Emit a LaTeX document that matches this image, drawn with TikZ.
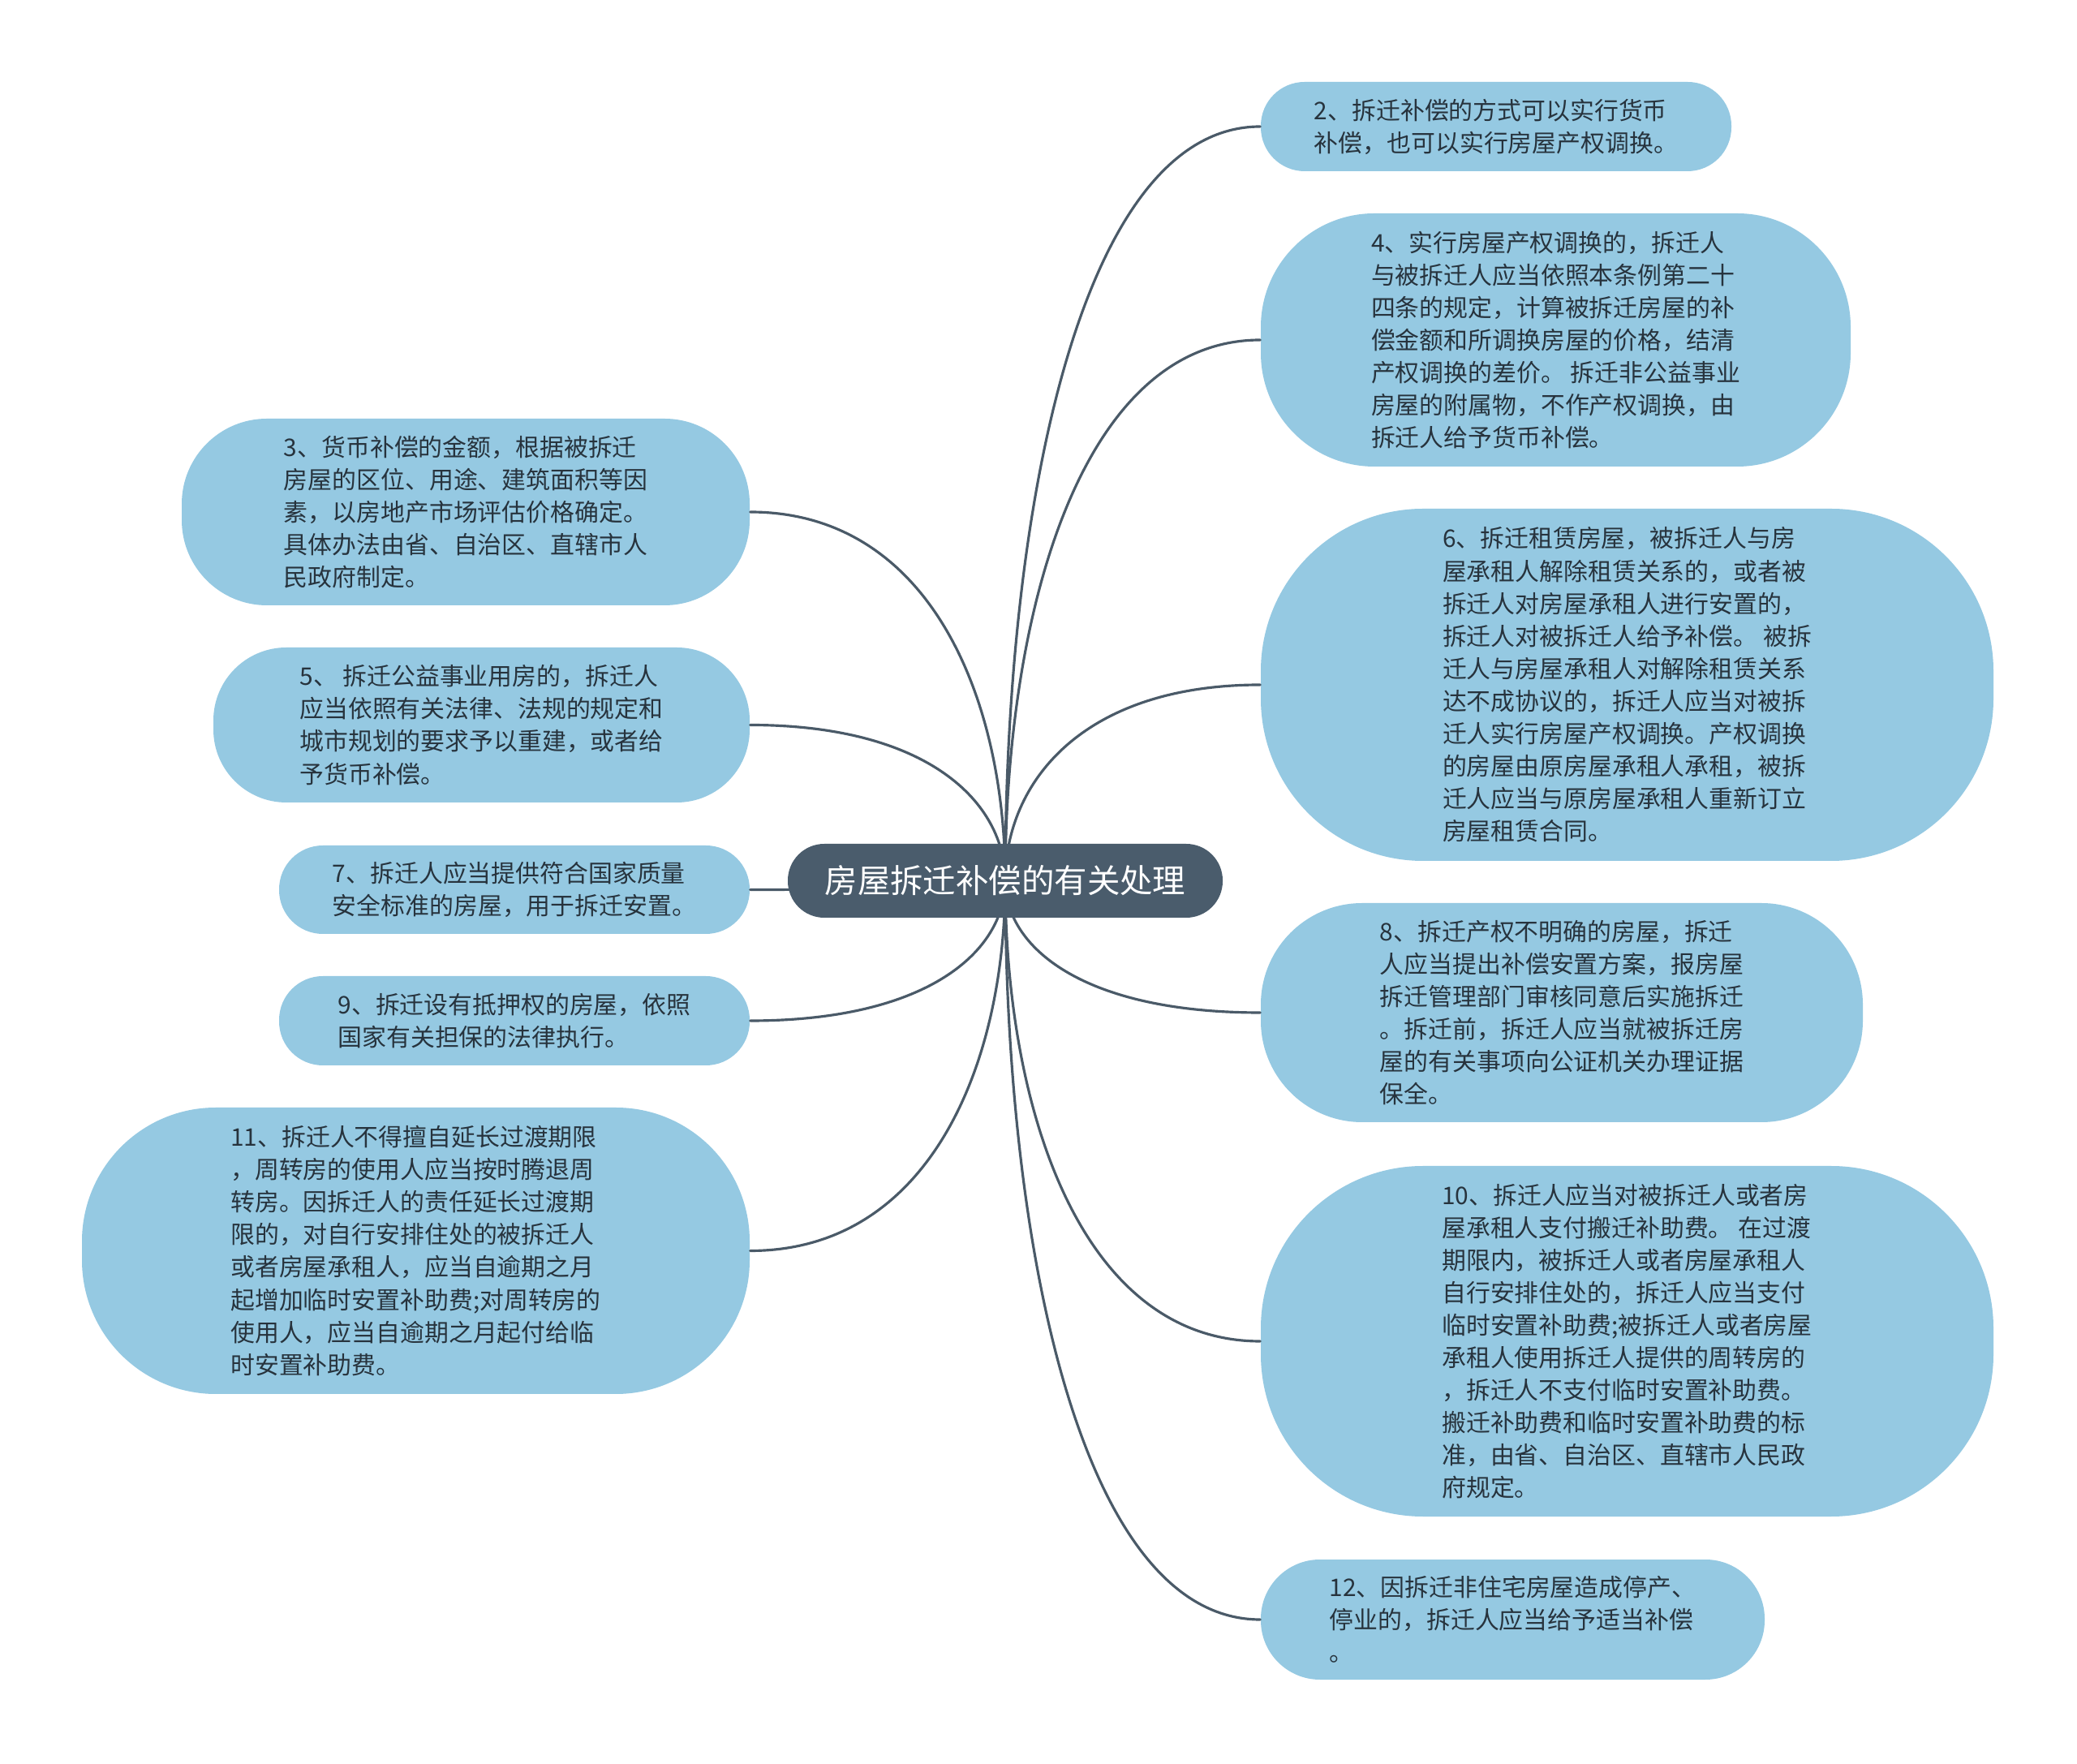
\documentclass[tikz,border=0pt]{standalone}
\usepackage{fontspec}
\setmainfont{Noto Sans CJK SC}
\usetikzlibrary{calc}
\definecolor{leafblue}{HTML}{95C9E2}
\definecolor{hubslate}{HTML}{4A5C6C}
\definecolor{linkslate}{HTML}{4A5A68}
\definecolor{inktext}{HTML}{27333D}

\begin{document}
\begin{tikzpicture}[x=1cm,y=1cm,line cap=round,line join=round,
  leaf/.style n args={3}{fill=leafblue,text=inktext,align=left,inner sep=0pt,
    minimum width=#1,minimum height=#2,rounded corners=#3,
    font=\fontsize{8.5}{11.4}\selectfont},
  spoke/.style={draw=linkslate,line width=0.9pt,
    to path={.. controls ($(\tikztostart)!0.5!(\tikztostart|-\tikztotarget)$)
      and ($(\tikztostart|-\tikztotarget)!0.3!(\tikztotarget)$) .. (\tikztotarget)}}]
\useasboundingbox (0,0) rectangle (25.6,21.73);
\fill[white] (0,0) rectangle (25.6,21.73);
\coordinate (hub) at (12.39,10.875);
% right side
\node[leaf={5.80cm}{1.10cm}{0.54cm}] (n2) at (18.44,20.17) {2、拆迁补偿的方式可以实行货币\\补偿，也可以实行房屋产权调换。};
\node[leaf={7.27cm}{3.12cm}{1.40cm}] (n4) at (19.175,17.54) {4、实行房屋产权调换的，拆迁人\\与被拆迁人应当依照本条例第二十\\四条的规定，计算被拆迁房屋的补\\偿金额和所调换房屋的价格，结清\\产权调换的差价。 拆迁非公益事业\\房屋的附属物，不作产权调换，由\\拆迁人给予货币补偿。};
\node[leaf={9.03cm}{4.34cm}{2.00cm}] (n6) at (20.055,13.29) {6、拆迁租赁房屋，被拆迁人与房\\屋承租人解除租赁关系的，或者被\\拆迁人对房屋承租人进行安置的，\\拆迁人对被拆迁人给予补偿。 被拆\\迁人与房屋承租人对解除租赁关系\\达不成协议的，拆迁人应当对被拆\\迁人实行房屋产权调换。产权调换\\的房屋由原房屋承租人承租，被拆\\迁人应当与原房屋承租人重新订立\\房屋租赁合同。};
\node[leaf={7.42cm}{2.70cm}{1.25cm}] (n8) at (19.25,9.25) {8、拆迁产权不明确的房屋，拆迁\\人应当提出补偿安置方案，报房屋\\拆迁管理部门审核同意后实施拆迁\\。拆迁前，拆迁人应当就被拆迁房\\屋的有关事项向公证机关办理证据\\保全。};
\node[leaf={9.03cm}{4.32cm}{2.00cm}] (n10) at (20.055,5.20) {10、拆迁人应当对被拆迁人或者房\\屋承租人支付搬迁补助费。 在过渡\\期限内，被拆迁人或者房屋承租人\\自行安排住处的，拆迁人应当支付\\临时安置补助费;被拆迁人或者房屋\\承租人使用拆迁人提供的周转房的\\，拆迁人不支付临时安置补助费。\\搬迁补助费和临时安置补助费的标\\准，由省、自治区、直辖市人民政\\府规定。};
\node[leaf={6.21cm}{1.48cm}{0.73cm}] (n12) at (18.645,1.77) {12、因拆迁非住宅房屋造成停产、\\停业的，拆迁人应当给予适当补偿\\。};
% left side
\node[leaf={7.00cm}{2.30cm}{1.05cm}] (n3) at (5.74,15.42) {3、货币补偿的金额，根据被拆迁\\房屋的区位、用途、建筑面积等因\\素，以房地产市场评估价格确定。\\具体办法由省、自治区、直辖市人\\民政府制定。};
\node[leaf={6.61cm}{1.91cm}{0.90cm}] (n5) at (5.935,12.795) {5、 拆迁公益事业用房的，拆迁人\\应当依照有关法律、法规的规定和\\城市规划的要求予以重建，或者给\\予货币补偿。};
\node[leaf={5.80cm}{1.09cm}{0.54cm}] (n7) at (6.34,10.765) {7、拆迁人应当提供符合国家质量\\安全标准的房屋，用于拆迁安置。};
\node[leaf={5.80cm}{1.10cm}{0.54cm}] (n9) at (6.34,9.15) {9、拆迁设有抵押权的房屋，依照\\国家有关担保的法律执行。};
\node[leaf={8.23cm}{3.53cm}{1.65cm}] (n11) at (5.125,6.315) {11、拆迁人不得擅自延长过渡期限\\，周转房的使用人应当按时腾退周\\转房。因拆迁人的责任延长过渡期\\限的，对自行安排住处的被拆迁人\\或者房屋承租人，应当自逾期之月\\起增加临时安置补助费;对周转房的\\使用人，应当自逾期之月起付给临\\时安置补助费。};
% connectors
\draw[spoke] (hub) to (n2.west);
\draw[spoke] (hub) to (n4.west);
\draw[spoke] (hub) to (n6.west);
\draw[spoke] (hub) to (n8.west);
\draw[spoke] (hub) to (n10.west);
\draw[spoke] (hub) to (n12.west);
\draw[spoke] (hub) to (n3.east);
\draw[spoke] (hub) to (n5.east);
\draw[spoke] (hub) to (n7.east);
\draw[spoke] (hub) to (n9.east);
\draw[spoke] (hub) to (n11.east);
% centre
\node[fill=hubslate,text=white,rounded corners=0.45cm,minimum width=5.36cm,minimum height=0.91cm,
  font=\fontsize{11.5}{14}\selectfont] (title) at (hub) {房屋拆迁补偿的有关处理};
\end{tikzpicture}
\end{document}
